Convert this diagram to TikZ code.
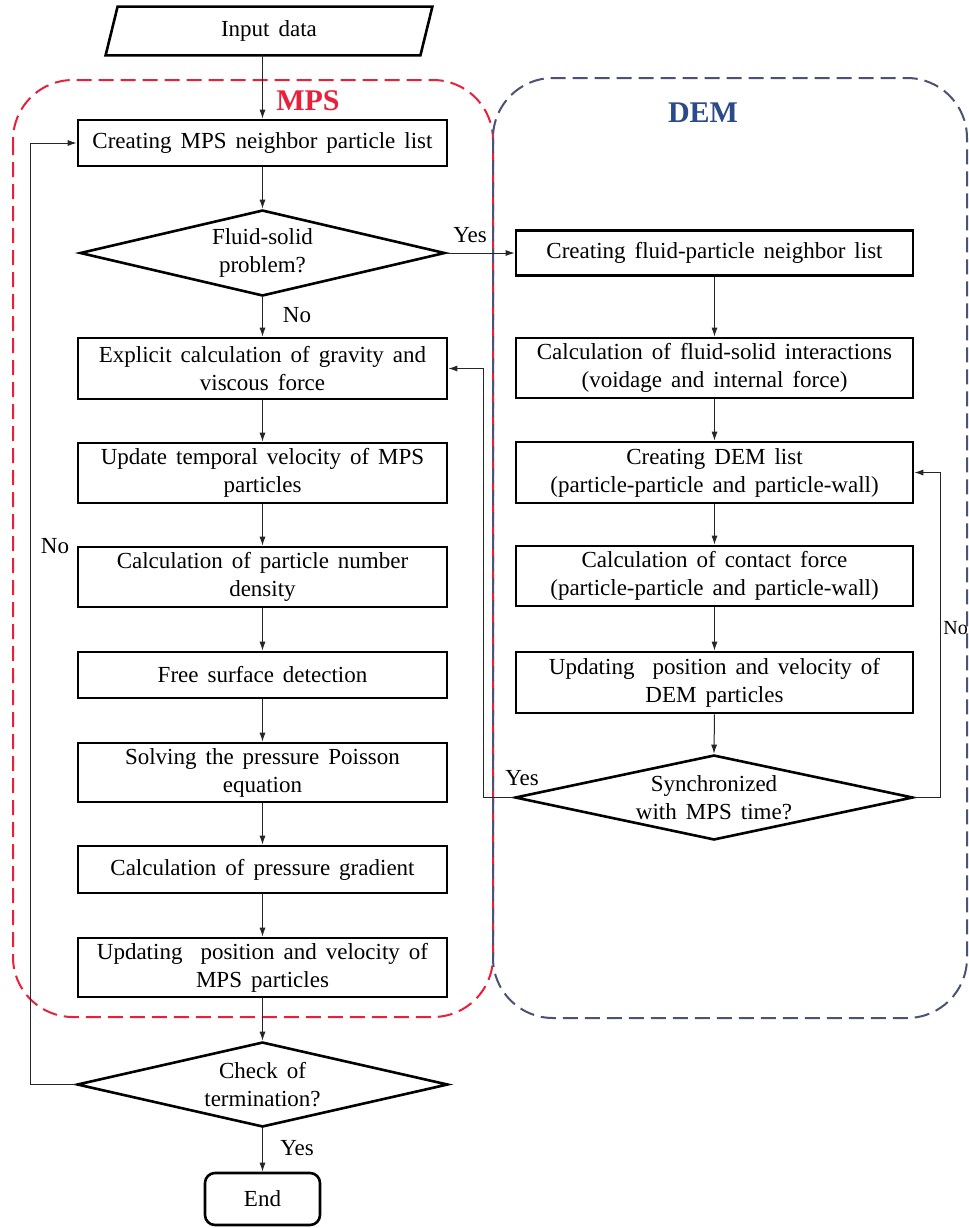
\documentclass[tikz,border=0pt]{standalone}
\usepackage{fontspec}
\setmainfont{Liberation Serif}
\usetikzlibrary{shapes.geometric,arrows.meta,calc}
\definecolor{mpsred}{HTML}{E8203A}
\definecolor{demline}{HTML}{4A5275}
\definecolor{demblue}{HTML}{2B4A8A}
\protected\def\widesp{\spaceskip 4.5pt plus 1pt\relax}
\begin{document}
\begin{tikzpicture}[x=0.5pt,y=-0.5pt,
  txt/.style={font={\fontsize{11.5}{14}\selectfont\widesp}},
  proc/.style={txt, draw, line width=1.3pt, minimum width=184.5pt, align=center, inner sep=0pt},
  demproc/.style={proc, minimum width=198.5pt},
  dec/.style={txt, draw, line width=1.3pt, shape=diamond, inner sep=0pt, align=center},
  arr/.style={line width=0.5pt, draw=black!85, -{Latex[length=4.5pt,width=3pt]}},
  lbl/.style={txt, inner sep=0pt},
  frame/.style={line width=1pt, dash pattern=on 7.5pt off 3.5pt, rounded corners=30pt},
  title/.style={font=\fontsize{15}{18}\selectfont\bfseries, inner sep=0pt}]

\useasboundingbox[fill=white] (0,0) rectangle (969,1228);

% frames
\draw[frame, draw=mpsred] (13,80) rectangle (493,1017);
\draw[frame, draw=demline] (493,78) rectangle (967,1018);
\node[title, text=mpsred] (mpslbl) at (308,101) {MPS};
\node[title, text=demblue] (demlbl) at (703,113) {DEM};

% input
\node[txt, minimum width=163pt, minimum height=24pt, inner sep=0pt] (input) at (269,31) {Input data};
\draw[line width=1.3pt] ([xshift=6pt]input.north west) -- (input.north east) -- ([xshift=-6pt]input.south east) -- (input.south west) -- cycle;

% MPS column
\node[proc, minimum height=23pt] (m1) at (262.5,143) {Creating MPS neighbor particle list};
\node[dec, aspect=4.24, minimum width=182.5pt, minimum height=43pt] (d1) at (262.5,253) {Fluid-solid\\problem?};
\node[proc, minimum height=30.5pt] (m2) at (262.5,368.5) {Explicit calculation of gravity and\\viscous force};
\node[proc, minimum height=30pt] (m3) at (262.5,473) {Update temporal velocity of MPS\\particles};
\node[proc, minimum height=30pt] (m4) at (262.5,577) {Calculation of particle number\\density};
\node[proc, minimum height=23pt] (m5) at (262.5,675) {Free surface detection};
\node[proc, minimum height=29.5pt] (m6) at (262.5,772.5) {Solving the pressure Poisson\\equation};
\node[proc, minimum height=23.5pt] (m7) at (262.5,869.5) {Calculation of pressure gradient};
\node[proc, minimum height=29.5pt] (m8) at (262.5,967.5) {Updating\ \ position and velocity of\\MPS particles};
\node[dec, aspect=4.36, minimum width=185.5pt, minimum height=42.5pt] (d3) at (262.5,1084.5) {Check of\\termination?};
\node[txt, draw, line width=1.3pt, rounded corners=5pt, minimum width=57.5pt, minimum height=26pt, inner sep=0pt] (end) at (262.5,1199) {End};

% DEM column
\node[demproc, minimum height=22.5pt] (e1) at (714.5,253) {Creating fluid-particle neighbor list};
\node[demproc, minimum height=30pt] (e2) at (714.5,368) {Calculation of fluid-solid interactions\\(voidage and internal force)};
\node[demproc, minimum height=30.5pt] (e3) at (714.5,472.5) {Creating DEM list\\(particle-particle and particle-wall)};
\node[demproc, minimum height=30pt] (e4) at (714.5,576) {Calculation of contact force\\(particle-particle and particle-wall)};
\node[demproc, minimum height=30.5pt] (e5) at (714.5,682.5) {Updating\ \ position and velocity of\\DEM particles};
\node[dec, aspect=4.68, minimum width=199pt, minimum height=42.5pt] (d2) at (714,797.5) {Synchronized\\with MPS time?};

% connectors
\draw[arr] (input.south -| m1.north) -- (m1.north);
\draw[arr] (m1.south) -- (d1.north);
\draw[arr] (d1.south) -- (m2.north);
\draw[arr] (m2.south) -- (m3.north);
\draw[arr] (m3.south) -- (m4.north);
\draw[arr] (m4.south) -- (m5.north);
\draw[arr] (m5.south) -- (m6.north);
\draw[arr] (m6.south) -- (m7.north);
\draw[arr] (m7.south) -- (m8.north);
\draw[arr] (m8.south) -- (d3.north);
\draw[arr] (d3.south) -- (end.north);
\draw[arr] (d1.east) -- (e1.west);
\draw[arr] (e1.south) -- (e2.north);
\draw[arr] (e2.south) -- (e3.north);
\draw[arr] (e3.south) -- (e4.north);
\draw[arr] (e4.south) -- (e5.north);
\draw[arr] (e5.south) -- (d2.north);

\coordinate (lx) at (30,0);
\coordinate (yx) at (483,0);
\coordinate (nx) at (940,0);
\draw[arr] (d3.west) -- (d3.west -| lx) -- (m1.west -| lx) -- (m1.west);
\draw[arr] (d2.west) -- (d2.west -| yx) -- (m2.east -| yx) -- (m2.east);
\draw[arr] (d2.east) -- (d2.east -| nx) -- (e3.east -| nx) -- (e3.east);

% labels
\node[lbl] (yes1) at (470,235) {Yes};
\node[lbl] (no1) at (297,315) {No};
\node[lbl] (no2) at (55,546) {No};
\node[lbl] (yes2) at (522,778) {Yes};
\node[lbl, anchor=west, font=\fontsize{10}{12}\selectfont] (no3) at (943,628) {No};
\node[lbl] (yes3) at (297,1148) {Yes};
\end{tikzpicture}
\end{document}
